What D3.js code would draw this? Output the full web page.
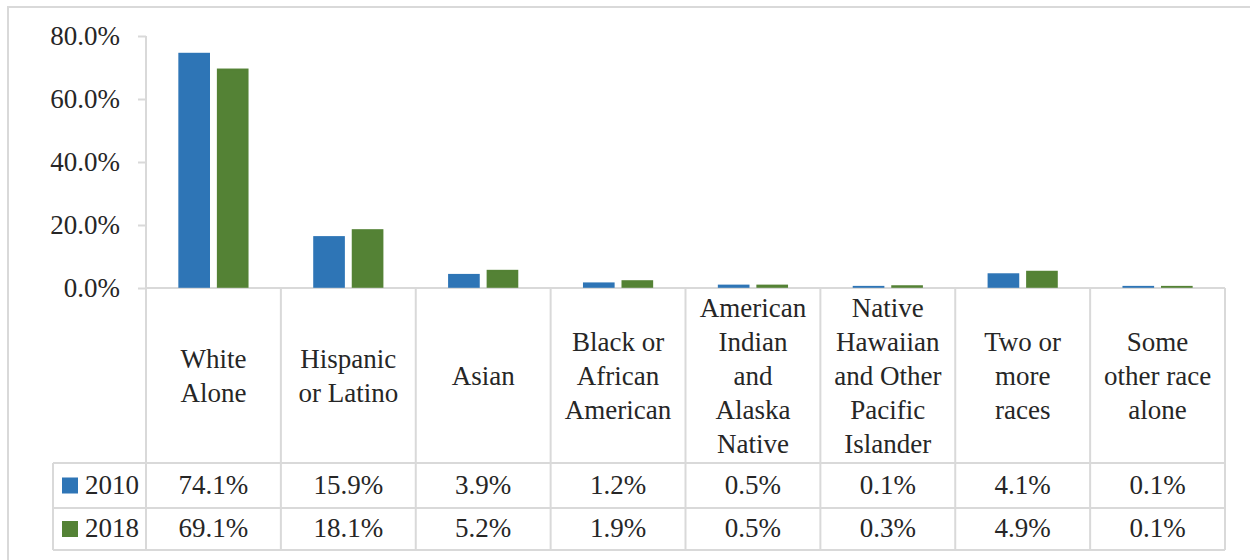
<!DOCTYPE html>
<html lang="en">
<head>
<meta charset="UTF-8">
<title>Race share 2010 vs 2018</title>
<style>
    body { margin: 0; background: #fff; }
    .grid { stroke: #d9d9d9; stroke-width: 2; fill: none; }
</style>
</head>
<body>
<svg id="chart" width="1250" height="560" style="font-family: 'Liberation Serif'"></svg>
<script src="https://cdn.jsdelivr.net/npm/d3@7"></script>
<script>
// data
let categoryLines = [
    ["White", "Alone"],
    ["Hispanic", "or Latino"],
    ["Asian"],
    ["Black or", "African", "American"],
    ["American", "Indian", "and", "Alaska", "Native"],
    ["Native", "Hawaiian", "and Other", "Pacific", "Islander"],
    ["Two or", "more", "races"],
    ["Some", "other race", "alone"]
]
let categories = categoryLines.map(l => l.join(" "))
let seriesNames = ["2010", "2018"]
let values2010 = [74.1, 15.9, 3.9, 1.2, 0.5, 0.1, 4.1, 0.1]
let values2018 = [69.1, 18.1, 5.2, 1.9, 0.5, 0.3, 4.9, 0.1]
let yTicks = [0, 20, 40, 60, 80]
let colors = ["#2e75b6", "#548235"]

let seriesValues = [values2010, values2018]

let textColor = "#262626"
let fontSize = 27

let svg = d3.select("#chart")

// layout
let plotLeft = 146, plotRight = 1225
let plotTop = 36, base = 288
let headerBottom = 463, row1Bottom = 508, row2Bottom = 550
let legendLeft = 53

// outer frame
svg.append("rect")
    .attr("class", "grid")
    .attr("x", 8).attr("y", 7)
    .attr("width", 1260).attr("height", 580)

let x = d3.scaleBand()
    .domain(categories)
    .range([plotLeft, plotRight])
    .padding(0)

let x1 = d3.scaleBand()
    .domain(seriesNames)
    .range([0, x.bandwidth()])
    .paddingInner(0.22)
    .paddingOuter(0.86)

let y = d3.scaleLinear()
    .domain([0, 80])
    .range([base, plotTop])

function label(sel) {
    return sel.attr("font-family", "Liberation Serif")
        .style("font-family", "'Liberation Serif'")
        .style("font-size", fontSize + "px")
        .style("fill", textColor)
}

// y axis
let yAxis = svg.append("g")
    .attr("transform", "translate(" + plotLeft + ",0)")
    .call(d3.axisLeft(y)
        .tickValues(yTicks)
        .tickSize(8)
        .tickPadding(18)
        .tickFormat(d => d.toFixed(1) + "%"))
yAxis.select(".domain").remove()
yAxis.attr("font-family", "Liberation Serif")
yAxis.selectAll(".tick line").attr("class", "grid")
label(yAxis.selectAll(".tick text"))

// table grid
let grid = svg.append("g")
grid.append("line").attr("class", "grid")
    .attr("x1", plotLeft).attr("x2", plotRight).attr("y1", base).attr("y2", base)
grid.append("line").attr("class", "grid")
    .attr("x1", plotLeft).attr("x2", plotLeft).attr("y1", plotTop).attr("y2", row2Bottom)
categories.forEach(c => {
    grid.append("line").attr("class", "grid")
        .attr("x1", x(c) + x.bandwidth()).attr("x2", x(c) + x.bandwidth())
        .attr("y1", base).attr("y2", row2Bottom)
})
grid.append("line").attr("class", "grid")
    .attr("x1", legendLeft).attr("x2", legendLeft).attr("y1", headerBottom).attr("y2", row2Bottom)
;[headerBottom, row1Bottom, row2Bottom].forEach(yy => {
    grid.append("line").attr("class", "grid")
        .attr("x1", legendLeft).attr("x2", plotRight).attr("y1", yy).attr("y2", yy)
})

// bars
let groups = svg.append("g").selectAll("g")
    .data(categories)
    .join("g")
    .attr("transform", d => "translate(" + x(d) + ",0)")

groups.selectAll("rect")
    .data((d, i) => seriesNames.map((s, j) => ({ s: s, v: seriesValues[j][i], j: j })))
    .join("rect")
    .attr("x", d => x1(d.s))
    .attr("width", x1.bandwidth())
    .attr("y", d => y(d.v) - 1)
    .attr("height", d => base - y(d.v))
    .attr("fill", d => colors[d.j])
    .attr("stroke", d => colors[d.j])
    .attr("stroke-width", 1.6)

// category labels
let lineH = 34
let headerMid = (base + headerBottom) / 2
categoryLines.forEach((lines, i) => {
    let cx = x(categories[i]) + x.bandwidth() / 2
    let t = label(svg.append("text").attr("text-anchor", "middle"))
    lines.forEach((l, k) => {
        t.append("tspan")
            .attr("x", cx)
            .attr("y", headerMid + (k - (lines.length - 1) / 2) * lineH + 9)
            .text(l)
    })
})

// value rows + legend
let rowMids = [(headerBottom + row1Bottom) / 2, (row1Bottom + row2Bottom) / 2]
seriesNames.forEach((s, j) => {
    let by = rowMids[j] + 8
    svg.append("rect")
        .attr("x", 62).attr("y", by - 16)
        .attr("width", 16).attr("height", 16)
        .attr("fill", colors[j])
    label(svg.append("text")
        .attr("x", 85).attr("y", by))
        .text(s)
    categories.forEach((c, i) => {
        label(svg.append("text")
            .attr("x", x(c) + x.bandwidth() / 2)
            .attr("y", by)
            .attr("text-anchor", "middle"))
            .text(seriesValues[j][i].toFixed(1) + "%")
    })
})
</script>
</body>
</html>
